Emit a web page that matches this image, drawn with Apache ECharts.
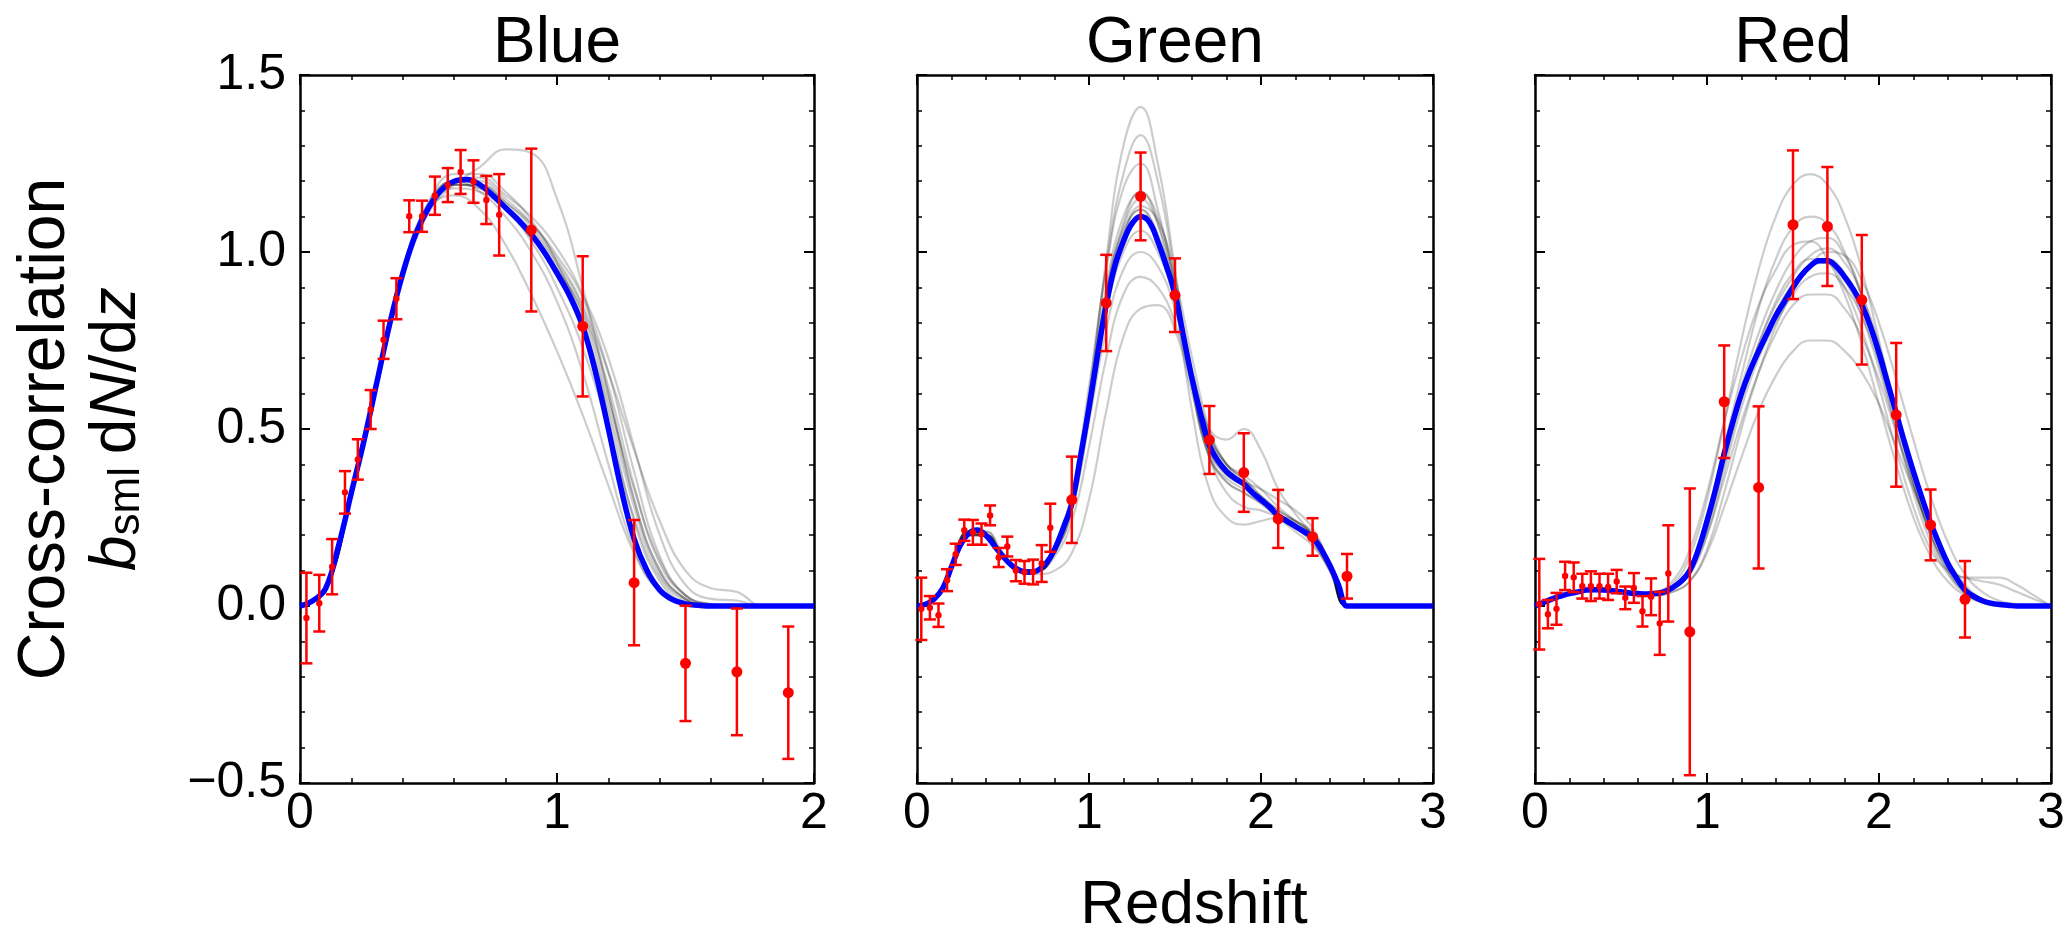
<!DOCTYPE html>
<html><head><meta charset="utf-8">
<script src="https://cdn.jsdelivr.net/npm/echarts@6/dist/echarts.min.js"></script>
<style>html,body{margin:0;padding:0;background:#fff}#c{width:2069px;height:934px}</style>
</head><body><div id="c"></div>
<script>
const FONT = '"Liberation Sans", Arial, Helvetica, sans-serif';

// ---------------- data ----------------
const panelTitles = ['Blue', 'Green', 'Red'];
const xTickMax = [2, 3, 3];

// fine grid (step 0.05) for best-fit curves
const fitZ2 = [0,0.05,0.1,0.15,0.2,0.25,0.3,0.35,0.4,0.45,0.5,0.55,0.6,0.65,0.7,0.75,0.8,0.85,0.9,0.95,1.0,1.05,1.1,1.15,1.2,1.25,1.3,1.35,1.4,1.45,1.5,1.55,1.6,1.65,1.7,1.75,1.8,1.85,1.9,1.95,2.0];
const fitZ3 = [0,0.05,0.1,0.15,0.2,0.25,0.3,0.35,0.4,0.45,0.5,0.55,0.6,0.65,0.7,0.75,0.8,0.85,0.9,0.95,1.0,1.05,1.1,1.15,1.2,1.25,1.3,1.35,1.4,1.45,1.5,1.55,1.6,1.65,1.7,1.75,1.8,1.85,1.9,1.95,2.0,2.05,2.1,2.15,2.2,2.25,2.3,2.35,2.4,2.45,2.5,2.55,2.6,2.65,2.7,2.75,2.8,2.85,2.9,2.95,3.0];
// coarse grid (step 0.1) for sample curves
const sampZ2 = [0,0.1,0.2,0.3,0.4,0.5,0.6,0.7,0.8,0.9,1.0,1.1,1.2,1.3,1.4,1.5,1.6,1.7,1.8,1.9,2.0];
const sampZ3 = [0,0.1,0.2,0.3,0.4,0.5,0.6,0.7,0.8,0.9,1.0,1.1,1.2,1.3,1.4,1.5,1.6,1.7,1.8,1.9,2.0,2.1,2.2,2.3,2.4,2.5,2.6,2.7,2.8,2.9,3.0];

// Blue sample
const blueFit = [0,0.015,0.05,0.17,0.32,0.47,0.635,0.8,0.94,1.05,1.125,1.175,1.2,1.205,1.19,1.16,1.125,1.09,1.05,1.0,0.94,0.875,0.79,0.66,0.5,0.33,0.19,0.1,0.045,0.018,0.006,0.002,0,0,0,0,0,0,0,0,0];
const blueSamples = [
  [0,0.05,0.32,0.63,0.93,1.12,1.19,1.19,1.14,1.08,0.99,0.87,0.66,0.38,0.14,0.03,0.005,0,0,0,0],
  [0,0.05,0.33,0.64,0.95,1.14,1.2,1.17,1.1,1.0,0.86,0.66,0.4,0.16,0.04,0.005,0,0,0,0,0],
  [0,0.05,0.31,0.62,0.92,1.11,1.19,1.24,1.29,1.28,1.15,0.9,0.6,0.3,0.1,0.02,0,0,0,0,0],
  [0,0.06,0.33,0.64,0.95,1.12,1.16,1.12,1.02,0.88,0.72,0.54,0.34,0.15,0.04,0.005,0,0,0,0,0],
  [0,0.05,0.32,0.63,0.94,1.13,1.2,1.2,1.15,1.08,0.98,0.85,0.66,0.44,0.24,0.1,0.05,0.04,0,0,0],
  [0,0.05,0.32,0.64,0.94,1.14,1.22,1.22,1.17,1.09,0.97,0.8,0.56,0.28,0.09,0.02,0,0,0,0,0],
  [0,0.05,0.31,0.63,0.93,1.12,1.18,1.17,1.12,1.04,0.95,0.83,0.6,0.3,0.1,0.02,0,0,0,0,0],
  [0,0.05,0.32,0.64,0.95,1.13,1.19,1.18,1.12,1.03,0.9,0.73,0.5,0.25,0.08,0.015,0,0,0,0,0],
  [0,0.05,0.32,0.63,0.93,1.12,1.2,1.21,1.16,1.1,1.01,0.88,0.7,0.45,0.2,0.06,0.02,0.015,0,0,0],
  [0,0.05,0.32,0.63,0.94,1.13,1.19,1.18,1.13,1.06,0.96,0.82,0.58,0.33,0.13,0.03,0.005,0,0,0,0],
  [0,0.05,0.32,0.64,0.94,1.13,1.2,1.19,1.13,1.05,0.95,0.8,0.54,0.24,0.07,0.01,0,0,0,0,0],
  [0,0.05,0.32,0.63,0.94,1.12,1.19,1.19,1.14,1.07,0.97,0.84,0.62,0.34,0.12,0.03,0.005,0,0,0,0]
];
const blueZ = [0.025,0.075,0.125,0.175,0.225,0.275,0.325,0.375,0.425,0.475,0.525,0.575,0.625,0.675,0.725,0.775,0.9,1.1,1.3,1.5,1.7,1.9];
const blueY = [-0.034,0.008,0.111,0.321,0.414,0.555,0.752,0.868,1.101,1.101,1.159,1.189,1.226,1.199,1.147,1.105,1.062,0.79,0.066,-0.162,-0.186,-0.245];
const blueErr = [0.128,0.08,0.078,0.06,0.057,0.055,0.054,0.058,0.045,0.044,0.054,0.048,0.062,0.06,0.068,0.115,0.23,0.198,0.177,0.163,0.179,0.187];

// Green sample
const greenFit = [0,0.005,0.02,0.05,0.11,0.17,0.205,0.215,0.2,0.17,0.14,0.115,0.1,0.095,0.1,0.12,0.16,0.22,0.29,0.42,0.56,0.71,0.85,0.96,1.03,1.08,1.1,1.085,1.03,0.96,0.88,0.76,0.64,0.54,0.455,0.41,0.38,0.36,0.345,0.32,0.3,0.28,0.255,0.24,0.225,0.21,0.195,0.16,0.115,0.06,0,0,0,0,0,0,0,0,0,0,0];
const greenSamples = [
  [0,0.02,0.11,0.21,0.21,0.14,0.1,0.1,0.15,0.28,0.58,0.98,1.3,1.41,1.25,0.95,0.62,0.42,0.36,0.33,0.3,0.26,0.23,0.19,0.11,0,0,0,0,0,0],
  [0,0.02,0.1,0.2,0.2,0.14,0.1,0.09,0.1,0.15,0.3,0.55,0.76,0.84,0.85,0.78,0.6,0.42,0.32,0.28,0.27,0.25,0.22,0.18,0.1,0,0,0,0,0,0],
  [0,0.02,0.11,0.21,0.2,0.14,0.1,0.1,0.17,0.32,0.62,0.95,1.18,1.25,1.12,0.9,0.63,0.43,0.35,0.32,0.29,0.25,0.22,0.19,0.11,0,0,0,0,0,0],
  [0,0.02,0.11,0.2,0.2,0.14,0.1,0.1,0.15,0.27,0.52,0.78,0.95,1.0,0.96,0.84,0.66,0.49,0.4,0.36,0.31,0.26,0.23,0.2,0.12,0,0,0,0,0,0],
  [0,0.02,0.11,0.2,0.2,0.14,0.1,0.1,0.16,0.3,0.57,0.86,1.05,1.12,1.05,0.88,0.65,0.5,0.47,0.5,0.44,0.33,0.26,0.2,0.12,0,0,0,0,0,0],
  [0,0.02,0.11,0.21,0.2,0.14,0.1,0.1,0.16,0.3,0.58,0.9,1.1,1.17,1.08,0.86,0.55,0.33,0.25,0.23,0.24,0.25,0.24,0.2,0.12,0,0,0,0,0,0],
  [0,0.02,0.11,0.205,0.2,0.14,0.1,0.1,0.16,0.29,0.55,0.83,1.0,1.06,1.0,0.86,0.66,0.48,0.4,0.36,0.31,0.27,0.24,0.21,0.12,0,0,0,0,0,0],
  [0,0.02,0.11,0.2,0.2,0.14,0.1,0.1,0.16,0.3,0.58,0.88,1.07,1.15,1.08,0.9,0.64,0.44,0.37,0.34,0.31,0.27,0.24,0.2,0.12,0,0,0,0,0,0],
  [0,0.02,0.11,0.21,0.21,0.15,0.1,0.1,0.15,0.27,0.53,0.83,1.04,1.13,1.09,0.93,0.7,0.5,0.4,0.35,0.3,0.25,0.21,0.17,0.1,0,0,0,0,0,0],
  [0,0.02,0.11,0.2,0.2,0.14,0.1,0.1,0.16,0.3,0.57,0.87,1.06,1.12,1.03,0.86,0.62,0.44,0.37,0.35,0.33,0.3,0.27,0.22,0.12,0,0,0,0,0,0],
  [0,0.02,0.11,0.21,0.2,0.14,0.1,0.1,0.16,0.3,0.6,0.96,1.22,1.33,1.2,0.93,0.62,0.42,0.35,0.32,0.29,0.25,0.22,0.18,0.1,0,0,0,0,0,0],
  [0,0.02,0.11,0.2,0.2,0.14,0.1,0.1,0.14,0.24,0.45,0.7,0.88,0.93,0.9,0.8,0.63,0.48,0.4,0.37,0.33,0.28,0.24,0.2,0.12,0,0,0,0,0,0],
  [0,0.02,0.11,0.205,0.2,0.14,0.1,0.1,0.16,0.29,0.56,0.86,1.04,1.1,1.04,0.88,0.64,0.45,0.38,0.34,0.3,0.26,0.23,0.19,0.11,0,0,0,0,0,0],
  [0,0.02,0.11,0.21,0.2,0.14,0.1,0.1,0.16,0.3,0.57,0.88,1.08,1.17,1.1,0.91,0.65,0.46,0.38,0.34,0.3,0.25,0.22,0.19,0.11,0,0,0,0,0,0]
];
const greenZ = [0.025,0.075,0.125,0.175,0.225,0.275,0.325,0.375,0.425,0.475,0.525,0.575,0.625,0.675,0.725,0.775,0.9,1.1,1.3,1.5,1.7,1.9,2.1,2.3,2.5];
const greenY = [-0.008,-0.005,-0.026,0.073,0.146,0.214,0.208,0.203,0.256,0.137,0.168,0.1,0.095,0.096,0.12,0.221,0.3,0.856,1.157,0.878,0.469,0.377,0.246,0.195,0.084];
const greenErr = [0.088,0.033,0.033,0.031,0.03,0.03,0.035,0.03,0.028,0.027,0.028,0.03,0.032,0.035,0.052,0.068,0.122,0.136,0.124,0.104,0.096,0.111,0.082,0.053,0.063];

// Red sample
const redFit = [0,0.01,0.02,0.028,0.035,0.04,0.045,0.046,0.045,0.043,0.04,0.037,0.035,0.034,0.035,0.04,0.052,0.07,0.1,0.16,0.24,0.33,0.43,0.52,0.6,0.665,0.72,0.77,0.82,0.86,0.9,0.935,0.96,0.975,0.975,0.96,0.93,0.895,0.85,0.79,0.715,0.63,0.545,0.46,0.38,0.305,0.235,0.175,0.12,0.08,0.045,0.027,0.015,0.008,0.004,0.002,0,0,0,0,0];
const redSamples = [
  [0,0.02,0.035,0.045,0.045,0.04,0.035,0.035,0.06,0.14,0.3,0.52,0.75,0.95,1.1,1.19,1.22,1.19,1.1,0.95,0.75,0.54,0.35,0.2,0.1,0.04,0.015,0.004,0,0,0],
  [0,0.02,0.035,0.045,0.045,0.04,0.035,0.03,0.04,0.07,0.15,0.28,0.42,0.55,0.65,0.72,0.75,0.75,0.72,0.66,0.57,0.45,0.33,0.22,0.13,0.06,0.02,0.005,0,0,0],
  [0,0.02,0.035,0.045,0.045,0.04,0.035,0.035,0.05,0.1,0.22,0.4,0.58,0.72,0.83,0.91,0.96,0.97,0.92,0.82,0.67,0.5,0.34,0.2,0.12,0.08,0.08,0.08,0.06,0.03,0],
  [0,0.02,0.035,0.045,0.045,0.04,0.035,0.04,0.07,0.16,0.32,0.52,0.7,0.85,0.95,1.02,1.03,0.98,0.88,0.74,0.57,0.4,0.25,0.14,0.07,0.03,0.01,0,0,0,0],
  [0,0.02,0.035,0.045,0.045,0.04,0.035,0.03,0.04,0.07,0.16,0.32,0.5,0.66,0.79,0.89,0.96,1.0,0.99,0.92,0.8,0.64,0.47,0.31,0.18,0.09,0.04,0.015,0.005,0,0],
  [0,0.02,0.035,0.045,0.045,0.04,0.035,0.035,0.05,0.11,0.25,0.45,0.65,0.84,0.98,1.07,1.1,1.08,1.0,0.87,0.69,0.5,0.32,0.18,0.09,0.035,0.01,0,0,0,0],
  [0,0.02,0.035,0.045,0.045,0.04,0.035,0.035,0.05,0.1,0.2,0.36,0.52,0.66,0.77,0.85,0.88,0.88,0.84,0.76,0.64,0.49,0.34,0.21,0.11,0.05,0.02,0.005,0,0,0],
  [0,0.02,0.035,0.045,0.045,0.04,0.035,0.035,0.05,0.1,0.23,0.42,0.6,0.74,0.85,0.93,0.99,1.01,0.97,0.88,0.74,0.56,0.39,0.24,0.13,0.05,0.02,0.005,0,0,0],
  [0,0.02,0.035,0.045,0.045,0.04,0.035,0.035,0.05,0.09,0.2,0.38,0.56,0.7,0.8,0.88,0.93,0.94,0.9,0.82,0.69,0.53,0.37,0.23,0.12,0.05,0.02,0.005,0,0,0],
  [0,0.02,0.035,0.045,0.045,0.04,0.035,0.035,0.05,0.1,0.22,0.41,0.59,0.74,0.86,0.94,0.98,0.97,0.9,0.78,0.62,0.44,0.28,0.16,0.1,0.08,0.07,0.06,0.04,0.02,0],
  [0,0.02,0.035,0.045,0.045,0.04,0.035,0.035,0.05,0.1,0.24,0.43,0.6,0.73,0.83,0.91,0.96,0.98,0.94,0.85,0.72,0.55,0.38,0.23,0.12,0.05,0.015,0.004,0,0,0],
  [0,0.02,0.035,0.045,0.045,0.04,0.035,0.035,0.05,0.11,0.25,0.44,0.62,0.77,0.89,0.98,1.03,1.04,0.99,0.88,0.72,0.53,0.35,0.2,0.1,0.04,0.012,0.003,0,0,0]
];
const redZ = [0.025,0.075,0.125,0.175,0.225,0.275,0.325,0.375,0.425,0.475,0.525,0.575,0.625,0.675,0.725,0.775,0.9,1.1,1.3,1.5,1.7,1.9,2.1,2.3,2.5];
const redY = [0.005,-0.023,-0.008,0.085,0.081,0.056,0.056,0.056,0.054,0.069,0.023,0.051,-0.015,0.026,-0.049,0.092,-0.073,0.577,0.335,1.077,1.072,0.865,0.54,0.229,0.019];
const redErr = [0.128,0.04,0.045,0.04,0.042,0.035,0.042,0.035,0.037,0.033,0.032,0.042,0.043,0.052,0.089,0.136,0.405,0.159,0.229,0.21,0.168,0.183,0.203,0.1,0.108];

// ---------------- layout / build ----------------
const panels = [
  {fitZ: fitZ2, fit: blueFit, sampZ: sampZ2, samples: blueSamples, z: blueZ, y: blueY, err: blueErr, left: 300, width: 514},
  {fitZ: fitZ3, fit: greenFit, sampZ: sampZ3, samples: greenSamples, z: greenZ, y: greenY, err: greenErr, left: 917, width: 516},
  {fitZ: fitZ3, fit: redFit, sampZ: sampZ3, samples: redSamples, z: redZ, y: redY, err: redErr, left: 1535, width: 516}
];
const TOP = 75, HEIGHT = 708;

const grids = [], xAxes = [], yAxes = [], series = [];
const lineAx = {show: true, onZero: false, lineStyle: {color: '#000', width: 2.5}};
const tickAx = {show: true, inside: true, length: 10, lineStyle: {color: '#000', width: 2}};
const minorAx = {show: true, splitNumber: 5, length: 5, lineStyle: {color: '#000', width: 1.5}};

panels.forEach((p, i) => {
  grids.push({left: p.left, top: TOP, width: p.width, height: HEIGHT, containLabel: false});
  ['bottom', 'top'].forEach((pos, k) => {
    xAxes.push({type: 'value', gridIndex: i, position: pos, min: 0, max: xTickMax[i], interval: 1,
      axisLine: lineAx, axisTick: tickAx, minorTick: minorAx,
      splitLine: {show: false}, minorSplitLine: {show: false},
      axisLabel: {show: k === 0, color: '#000', fontSize: 50, fontFamily: FONT, margin: 6,
        formatter: v => String(Math.round(v))}
    });
  });
  ['left', 'right'].forEach((pos, k) => {
    yAxes.push({type: 'value', gridIndex: i, position: pos, min: -0.5, max: 1.5, interval: 0.5,
      axisLine: lineAx, axisTick: tickAx, minorTick: minorAx,
      splitLine: {show: false}, minorSplitLine: {show: false},
      axisLabel: {show: (k === 0 && i === 0), color: '#000', fontSize: 50, fontFamily: FONT, margin: 14,
        formatter: v => (v < 0 ? '\u2212' : '') + Math.abs(v).toFixed(1)}
    });
  });
  const xi = 2 * i, yi = 2 * i;
  p.samples.forEach(s => {
    series.push({type: 'line', xAxisIndex: xi, yAxisIndex: yi, silent: true, animation: false,
      showSymbol: false, smooth: 0.45, z: 1,
      lineStyle: {color: 'rgba(0,0,0,0.2)', width: 2.2},
      data: p.sampZ.map((x, j) => [x, s[j]])});
  });
  series.push({type: 'line', xAxisIndex: xi, yAxisIndex: yi, silent: true, animation: false,
    showSymbol: false, smooth: 0.4, z: 3,
    lineStyle: {color: '#0000ff', width: 5.5},
    data: p.fitZ.map((x, j) => [x, p.fit[j]])});
  series.push({type: 'custom', xAxisIndex: xi, yAxisIndex: yi, silent: true, animation: false, z: 5,
    encode: {x: 0, y: 1},
    data: p.z.map((x, j) => [x, p.y[j], p.err[j]]),
    renderItem: function (params, api) {
      const x = api.value(0), y = api.value(1), e = api.value(2);
      const c = api.coord([x, y]), lo = api.coord([x, y - e]), hi = api.coord([x, y + e]);
      const r = x > 0.8 ? 5.5 : 3.2;
      const cap = 6;
      const st = {stroke: '#ff0000', lineWidth: 2.5};
      return {type: 'group', children: [
        {type: 'line', shape: {x1: c[0], y1: lo[1], x2: c[0], y2: hi[1]}, style: st},
        {type: 'line', shape: {x1: c[0] - cap, y1: hi[1], x2: c[0] + cap, y2: hi[1]}, style: st},
        {type: 'line', shape: {x1: c[0] - cap, y1: lo[1], x2: c[0] + cap, y2: lo[1]}, style: st},
        {type: 'circle', shape: {cx: c[0], cy: c[1], r: r}, style: {fill: '#ff0000'}}
      ]};
    }
  });
});

const graphics = panels.map((p, i) => ({
  type: 'text', x: p.left + p.width / 2, y: 44, silent: true,
  style: {text: panelTitles[i], fontSize: 64, fontFamily: FONT, fill: '#000', align: 'center', verticalAlign: 'middle'}
}));
graphics.push({type: 'text', x: 1194, y: 906, silent: true,
  style: {text: 'Redshift', fontSize: 62, fontFamily: FONT, fill: '#000', align: 'center', verticalAlign: 'middle'}});
graphics.push({type: 'text', x: 46, y: 429, rotation: Math.PI / 2, silent: true,
  style: {text: 'Cross-correlation', fontSize: 66, fontFamily: FONT, fill: '#000', align: 'center', verticalAlign: 'middle'}});
graphics.push({type: 'text', x: 117, y: 429, rotation: Math.PI / 2, silent: true,
  style: {
    text: '{i|b}{s|sml}{n|\u2009d}{i|N}{n|/d}{i|z}',
    align: 'center', verticalAlign: 'middle',
    rich: {
      i: {fontSize: 64, fontFamily: FONT, fontStyle: 'italic', fill: '#000', lineHeight: 64},
      n: {fontSize: 64, fontFamily: FONT, fill: '#000', lineHeight: 64},
      s: {fontSize: 44, fontFamily: FONT, fill: '#000', lineHeight: 44, verticalAlign: 'bottom'}
    }
  }});

const chart = echarts.init(document.getElementById('c'), null, {renderer: 'canvas'});
chart.setOption({
  animation: false,
  backgroundColor: '#fff',
  grid: grids, xAxis: xAxes, yAxis: yAxes, series: series,
  graphic: graphics
});
</script></body></html>
